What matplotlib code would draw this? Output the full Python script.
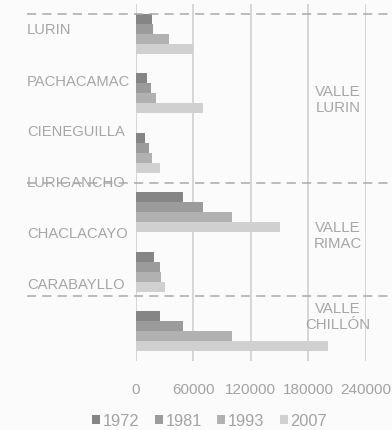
import numpy as np
import matplotlib
matplotlib.use("Agg")
import matplotlib.pyplot as plt
from matplotlib.patches import Patch
from matplotlib.transforms import blended_transform_factory

plt.rcParams['font.family'] = ['Liberation Sans', 'DejaVu Sans']

# Population by district and census year
districts = ["LURIN", "PACHACAMAC", "CIENEGUILLA", "LURIGANCHO", "CHACLACAYO", "CARABAYLLO"]
years = ["1972", "1981", "1993", "2007"]
pop_1972 = [16500, 11800, 10000, 49700, 19000, 25000]
pop_1981 = [18000, 16000, 13500, 70200, 25000, 49700]
pop_1993 = [35000, 21500, 17000, 100000, 26700, 100000]
pop_2007 = [60000, 70000, 25400, 150500, 30200, 200500]
series = [pop_1972, pop_1981, pop_1993, pop_2007]
colors = ["#858585", "#9b9b9b", "#b1b1b1", "#d0d0d0"]

valleys = ["VALLE\nLURIN", "VALLE\nRIMAC", "VALLE\nCHILLÓN"]
xticks = [0, 60000, 120000, 180000, 240000]

W, H = 392, 431
fig = plt.figure(figsize=(W / 100, H / 100), dpi=100)
bg = "#fbfbfb"
fig.patch.set_facecolor(bg)

left, right, top, bottom = 135.7, 366.0, 5.0, 362.0
ax = fig.add_axes([left / W, 1 - bottom / H, (right - left) / W, (bottom - top) / H])
ax.set_facecolor(bg)

n = len(districts)
pos = np.arange(n)
bh = 0.168
for k, (vals, c) in enumerate(zip(series, colors)):
    ax.barh(pos + (k - 1.5) * bh, vals, height=bh, color=c, zorder=3)

ax.set_xlim(0, 240000)
ax.set_ylim(n - 0.5, -0.5)
ax.set_xticks(xticks)
ax.set_xticklabels([str(t) for t in xticks])
ax.set_yticks([])
ax.tick_params(axis='x', length=0, pad=15, labelsize=11, labelcolor="#a3a3a3")
ax.grid(axis='x', color="#d4d4d4", linewidth=1.3, zorder=0)
for s in ax.spines.values():
    s.set_visible(False)

# District names, evenly spaced down the left side
txt_color = "#a6a6a6"
tr = blended_transform_factory(fig.transFigure, ax.transAxes)
for k, name in enumerate(districts):
    ax.text(27 / W, 1 - (k + 0.5) / 7, name, transform=tr,
            ha='left', va='center', fontsize=10.6, color=txt_color)

# Valley separators
for yf in [1 - 10 / 357, 1 - 179 / 357, 1 - 291.7 / 357]:
    ax.plot([27 / W, 1.0], [yf, yf], transform=tr, color="#aaaaaa", linewidth=1.1,
            dashes=(6, 4), clip_on=False, zorder=4)

# Valley names
for label, ypx in zip(valleys, [100, 236, 317]):
    fig.text(338 / W, 1 - ypx / H, label, ha='center', va='center', fontsize=10.8,
             color=txt_color, linespacing=1.12)

handles = [Patch(facecolor=c, edgecolor='none') for c in colors]
leg = fig.legend(handles, years, loc='center', bbox_to_anchor=(209.5 / W, 1 - 422 / H), ncol=4,
                 frameon=False, fontsize=11.8, handlelength=0.5, handleheight=0.5,
                 handletextpad=0.15, columnspacing=0.95, borderpad=0)
for t in leg.get_texts():
    t.set_color("#a3a3a3")

fig.savefig("out.png", dpi=100, facecolor=bg)
